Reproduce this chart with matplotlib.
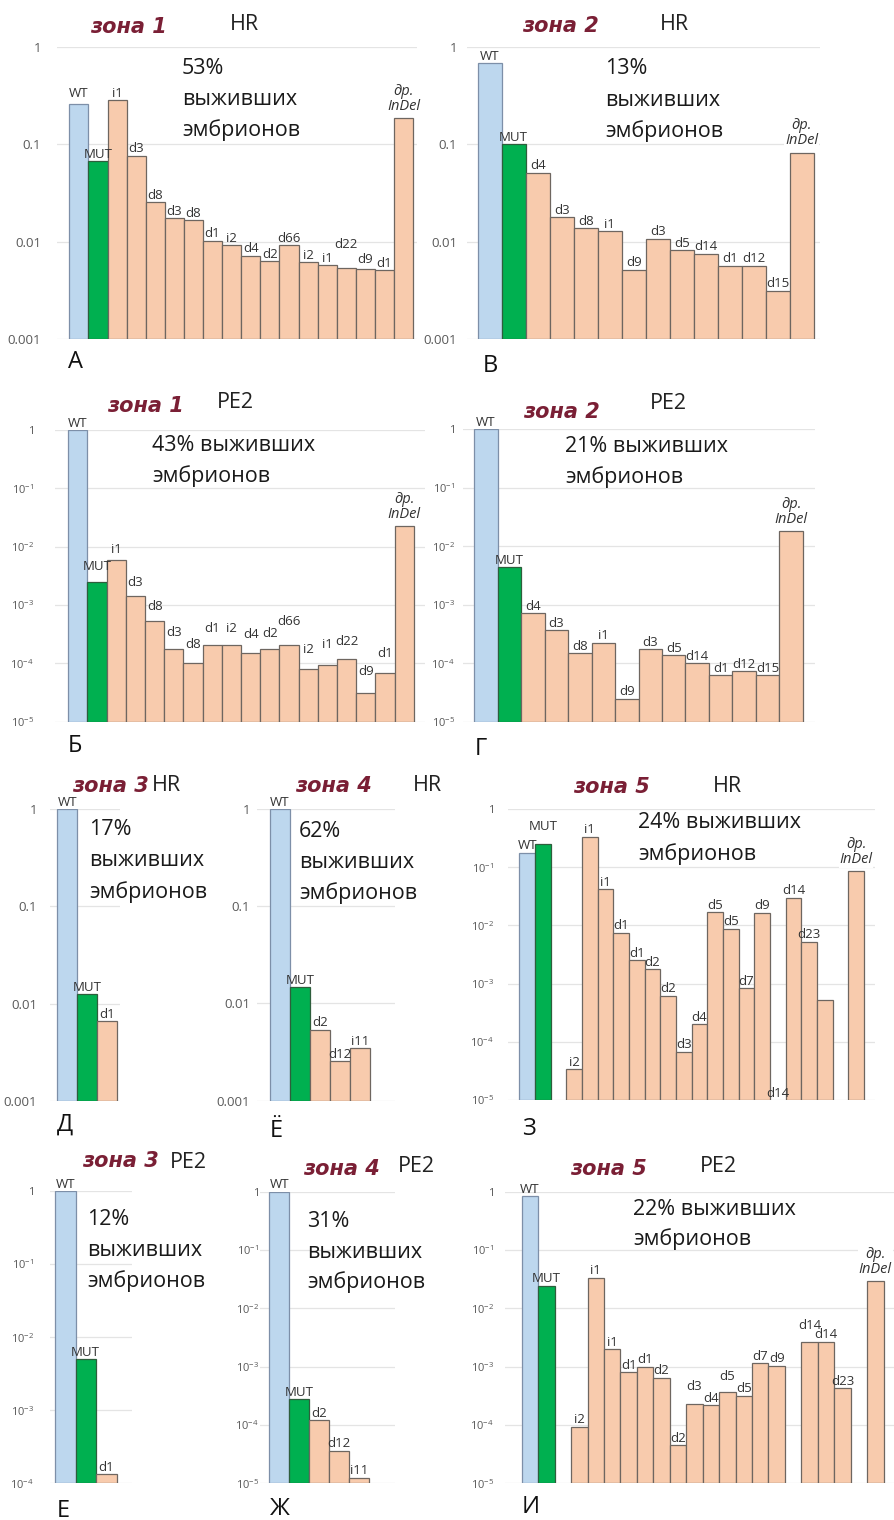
import math
import matplotlib
matplotlib.use("Agg")
import matplotlib.pyplot as plt
from matplotlib.ticker import FixedLocator, FixedFormatter, NullLocator

plt.rcParams['font.family'] = ['Open Sans', 'DejaVu Sans']
plt.rcParams['mathtext.default'] = 'regular'

W, H = 895, 1520
INDEL = 'др.\nInDel'

# зона 1, HR (А)
a_labels = ['WT', 'MUT', 'i1', 'd3', 'd8', 'd3', 'd8', 'd1', 'i2', 'd4', 'd2', 'd66',
            'i2', 'i1', 'd22', 'd9', 'd1', INDEL]
a_values = [0.257, 0.0675, 0.284, 0.0766, 0.0257, 0.0176, 0.0166, 0.0103, 0.0092, 0.0072,
            0.0063, 0.0093, 0.0062, 0.0058, 0.0054, 0.0052, 0.0051, 0.187]

# зона 2, HR (В)
b_labels = ['WT', 'MUT', 'd4', 'd3', 'd8', 'i1', 'd9', 'd3', 'd5', 'd14', 'd1', 'd12', 'd15', INDEL]
b_values = [0.675, 0.1, 0.051, 0.0179, 0.0137, 0.0129, 0.00517, 0.0108, 0.00815, 0.00754,
            0.00568, 0.00568, 0.00315, 0.0822]

# зона 1, PE2 (Б)
bb_labels = a_labels
bb_values = [1.0, 0.00251, 0.00583, 0.00145, 0.000532, 0.000174, 0.0001, 0.000204, 0.000204,
             0.000148, 0.000174, 0.000204, 0.000081, 0.0000925, 0.000117, 0.0000306,
             0.0000674, 0.0229]

# зона 2, PE2 (Г)
g_labels = b_labels
g_values = [1.0, 0.00436, 0.000713, 0.000365, 0.000148, 0.000225, 0.0000247, 0.000173,
            0.000136, 0.0000995, 0.0000629, 0.0000726, 0.0000629, 0.018]

# зона 3 / зона 4, HR (Д, Ё)
d_labels = ['WT', 'MUT', 'd1']
d_values = [1.0, 0.0126, 0.00664]
yo_labels = ['WT', 'MUT', 'd2', 'd12', 'i11']
yo_values = [1.0, 0.01476, 0.00537, 0.00256, 0.00346]

# зона 5, HR (З); None = empty slot
z_labels = ['WT', 'MUT', None, 'i2', 'i1', 'i1', 'd1', 'd1', 'd2', 'd2', 'd3', 'd4', 'd5', 'd5',
            'd7', 'd9', 'd14', 'd14', 'd23', '', None, INDEL]
z_values = [0.178, 0.25, 0, 0.0000341, 0.335, 0.0422, 0.0075, 0.00255, 0.00178, 0.00062,
            0.0000676, 0.000202, 0.0168, 0.00879, 0.00083, 0.01655, 0, 0.030, 0.00525,
            0.000523, 0, 0.086]

# зона 3 / зона 4, PE2 (Е, Ж)
e_labels = ['WT', 'MUT', 'd1']
e_values = [1.0, 0.00503, 0.000133]
zh_labels = ['WT', 'MUT', 'd2', 'd12', 'i11']
zh_values = [1.0, 0.000275, 0.000122, 0.0000363, 0.0000125]

# зона 5, PE2 (И)
i_labels = ['WT', 'MUT', None, 'i2', 'i1', 'i1', 'd1', 'd1', 'd2', 'd2', 'd3', 'd4', 'd5', 'd5',
            'd7', 'd9', None, 'd14', 'd14', 'd23', None, INDEL]
i_values = [0.843, 0.0245, 0, 0.0000936, 0.0335, 0.00201, 0.0008, 0.001, 0.000648, 0.0000454,
            0.000229, 0.00022, 0.000363, 0.000318, 0.00114, 0.00104, 0, 0.00268, 0.00268,
            0.000425, 0, 0.0294]

zones = ['зона 1', 'зона 2', 'зона 1', 'зона 2', 'зона 3', 'зона 4', 'зона 5',
         'зона 3', 'зона 4', 'зона 5']
methods = ['HR', 'HR', 'PE2', 'PE2', 'HR', 'HR', 'HR', 'PE2', 'PE2', 'PE2']
survival = ['53%', '13%', '43%', '21%', '17%', '62%', '24%', '12%', '31%', '22%']
letters = ['А', 'В', 'Б', 'Г', 'Д', 'Ё', 'З', 'Е', 'Ж', 'И']

fig = plt.figure(figsize=(W / 100, H / 100), dpi=100)

C_WT, C_MUT, C_OR = '#bdd7ee', '#00b050', '#f8cbad'
E_WT, E_MUT, E_OR = '#7d8fa8', '#2e5e3c', '#6e6660'
TITLE_RED = '#7a1f35'


def fx(x):
    return x / W


def fy(y):
    return 1 - y / H


def panel(labels, values, ylo, grid_x, y_px, bar_x0, slot, tick_right, power, lbl_dy=None):
    ax = fig.add_axes([fx(grid_x[0]), fy(y_px[1]), (grid_x[1] - grid_x[0]) / W,
                       (y_px[1] - y_px[0]) / H])
    left = -0.5 - (bar_x0 - grid_x[0]) / slot
    right = left + (grid_x[1] - grid_x[0]) / slot
    ax.set_xlim(left, right)
    ax.set_yscale('log')
    ax.set_ylim(ylo, 1)
    lbl_dy = lbl_dy or {}
    for i, (lab, v) in enumerate(zip(labels, values)):
        if lab is None:
            continue
        if i == 0:
            fc, ec = C_WT, E_WT
        elif i == 1:
            fc, ec = C_MUT, E_MUT
        else:
            fc, ec = C_OR, E_OR
        if v > ylo:
            ax.bar(i, v - ylo, width=1.0, bottom=ylo, color=fc, edgecolor=ec,
                   linewidth=0.9, zorder=2)
        top = v if v > ylo else ylo
        dy = lbl_dy.get(i, 0) * 0.72
        if lab == INDEL:
            ax.annotate(lab, (i, top), xytext=(0, 3), textcoords='offset points',
                        ha='center', va='bottom', fontsize=10.5, style='italic',
                        color='#333333', linespacing=1.0, annotation_clip=False, zorder=4,
                        bbox=dict(facecolor='white', edgecolor='none', pad=0.5))
        elif lab:
            ax.annotate(lab, (i, top), xytext=(0, 0.2 + dy),
                        textcoords='offset points', ha='center', va='bottom', fontsize=9.5,
                        color='#333333', annotation_clip=False, zorder=4)
    decs = list(range(int(round(math.log10(ylo))), 1))
    ticks = [10.0 ** k for k in decs]
    if power:
        names = ['1' if k == 0 else r'$10^{%d}$' % k for k in decs]
    else:
        names = ['1' if k == 0 else ('%.' + str(-k) + 'f') % 10.0 ** k for k in decs]
    ax.yaxis.set_major_locator(FixedLocator(ticks))
    ax.yaxis.set_major_formatter(FixedFormatter(names))
    ax.yaxis.set_minor_locator(NullLocator())
    ax.tick_params(axis='y', length=0, pad=(grid_x[0] - tick_right) * 0.72,
                   labelsize=9.5 if not power else 8, labelcolor='#595959')
    ax.set_xticks([])
    ax.yaxis.grid(True, color='#e4e4e4', linewidth=0.9)
    ax.set_axisbelow(True)
    for s in ax.spines.values():
        s.set_visible(False)
    ax.patch.set_alpha(0)
    return ax


# label lifts in pixels, by slot
lift_a = {0: 4, 14: 17, 15: 3}
lift_bb = {0: 0, 1: 8, 2: 4, 3: 6, 4: 8, 5: 10, 6: 12, 7: 10, 8: 10, 9: 12, 10: 9, 11: 17,
           12: 12, 13: 14, 14: 11, 15: 15, 16: 13}
lift_z = {1: 11}
lift_i = {10: 11, 12: 9, 17: 9}

panel(a_labels, a_values, 1e-3, (57, 417), (46.7, 339.3), 69.3, 19.1, 41, False, lift_a)
panel(b_labels, b_values, 1e-3, (466.7, 820), (46.7, 339.3), 477.7, 24.0, 457, False)
panel(bb_labels, bb_values, 1e-5, (55, 425), (430, 721.7), 68.3, 19.2, 34, True, lift_bb)
panel(g_labels, g_values, 1e-5, (463, 815), (429.3, 721.7), 474.3, 23.46, 455, True)
panel(d_labels, d_values, 1e-3, (50, 120), (809, 1101), 57.3, 20, 37, False)
panel(yo_labels, yo_values, 1e-3, (257, 395), (809, 1100.7), 270, 20, 250, False)
panel(z_labels, z_values, 1e-5, (508, 875), (809, 1100), 519.3, 15.67, 494, True, lift_z)
panel(e_labels, e_values, 1e-4, (50, 132), (1191, 1483.3), 55, 20.5, 34, True)
panel(zh_labels, zh_values, 1e-5, (260, 395), (1191.7, 1483.3), 269.3, 20, 259, True)
panel(i_labels, i_values, 1e-5, (505, 895), (1191.7, 1483.3), 521.7, 16.45, 494, True, lift_i)

# titles: (zone left, zone baseline, method left, method baseline)
title_pos = [(90, 33, 230, 30), (522, 32, 660, 30), (107, 412, 217, 408), (523, 418, 650, 409),
             (72, 792, 152, 791), (295, 792, 413, 791), (573, 793, 713, 792),
             (82, 1167, 170, 1168), (303, 1175, 398, 1172), (570, 1175, 700, 1172)]
# survival text: (left, first baseline, line pitch, two-line layout)
surv_pos = [(182, 74, 31, False), (605, 74, 31.5, False), (152, 451, 31, True),
            (565, 452, 31, True), (89, 835, 31.5, False), (299, 837, 31, False),
            (638, 828, 32, True), (87, 1225, 31, False), (307, 1227, 30.5, False),
            (633, 1215, 30, True)]
letter_pos = [(68, 368), (483, 372), (68, 752), (475, 755), (57, 1131), (270, 1137),
              (522, 1135), (57, 1517), (270, 1515), (522, 1513)]

for k in range(10):
    zx, zy, mx, my = title_pos[k]
    fig.text(fx(zx), fy(zy), zones[k], fontsize=15, fontweight='bold', style='italic',
             color=TITLE_RED, family=['DejaVu Sans'], va='baseline', ha='left')
    fig.text(fx(mx), fy(my), methods[k], fontsize=15.5, color='#222222', va='baseline', ha='left')
    sx, sy, pitch, two = surv_pos[k]
    if two:
        lines = [survival[k] + ' выживших', 'эмбрионов']
    else:
        lines = [survival[k], 'выживших', 'эмбрионов']
    for j, line in enumerate(lines):
        fig.text(fx(sx), fy(sy + j * pitch), line, fontsize=15.5, color='#1a1a1a',
                 va='baseline', ha='left')
    lx, ly = letter_pos[k]
    fig.text(fx(lx), fy(ly), letters[k], fontsize=17, color='#111111', va='baseline', ha='left')

fig.savefig('out.png', dpi=100)
